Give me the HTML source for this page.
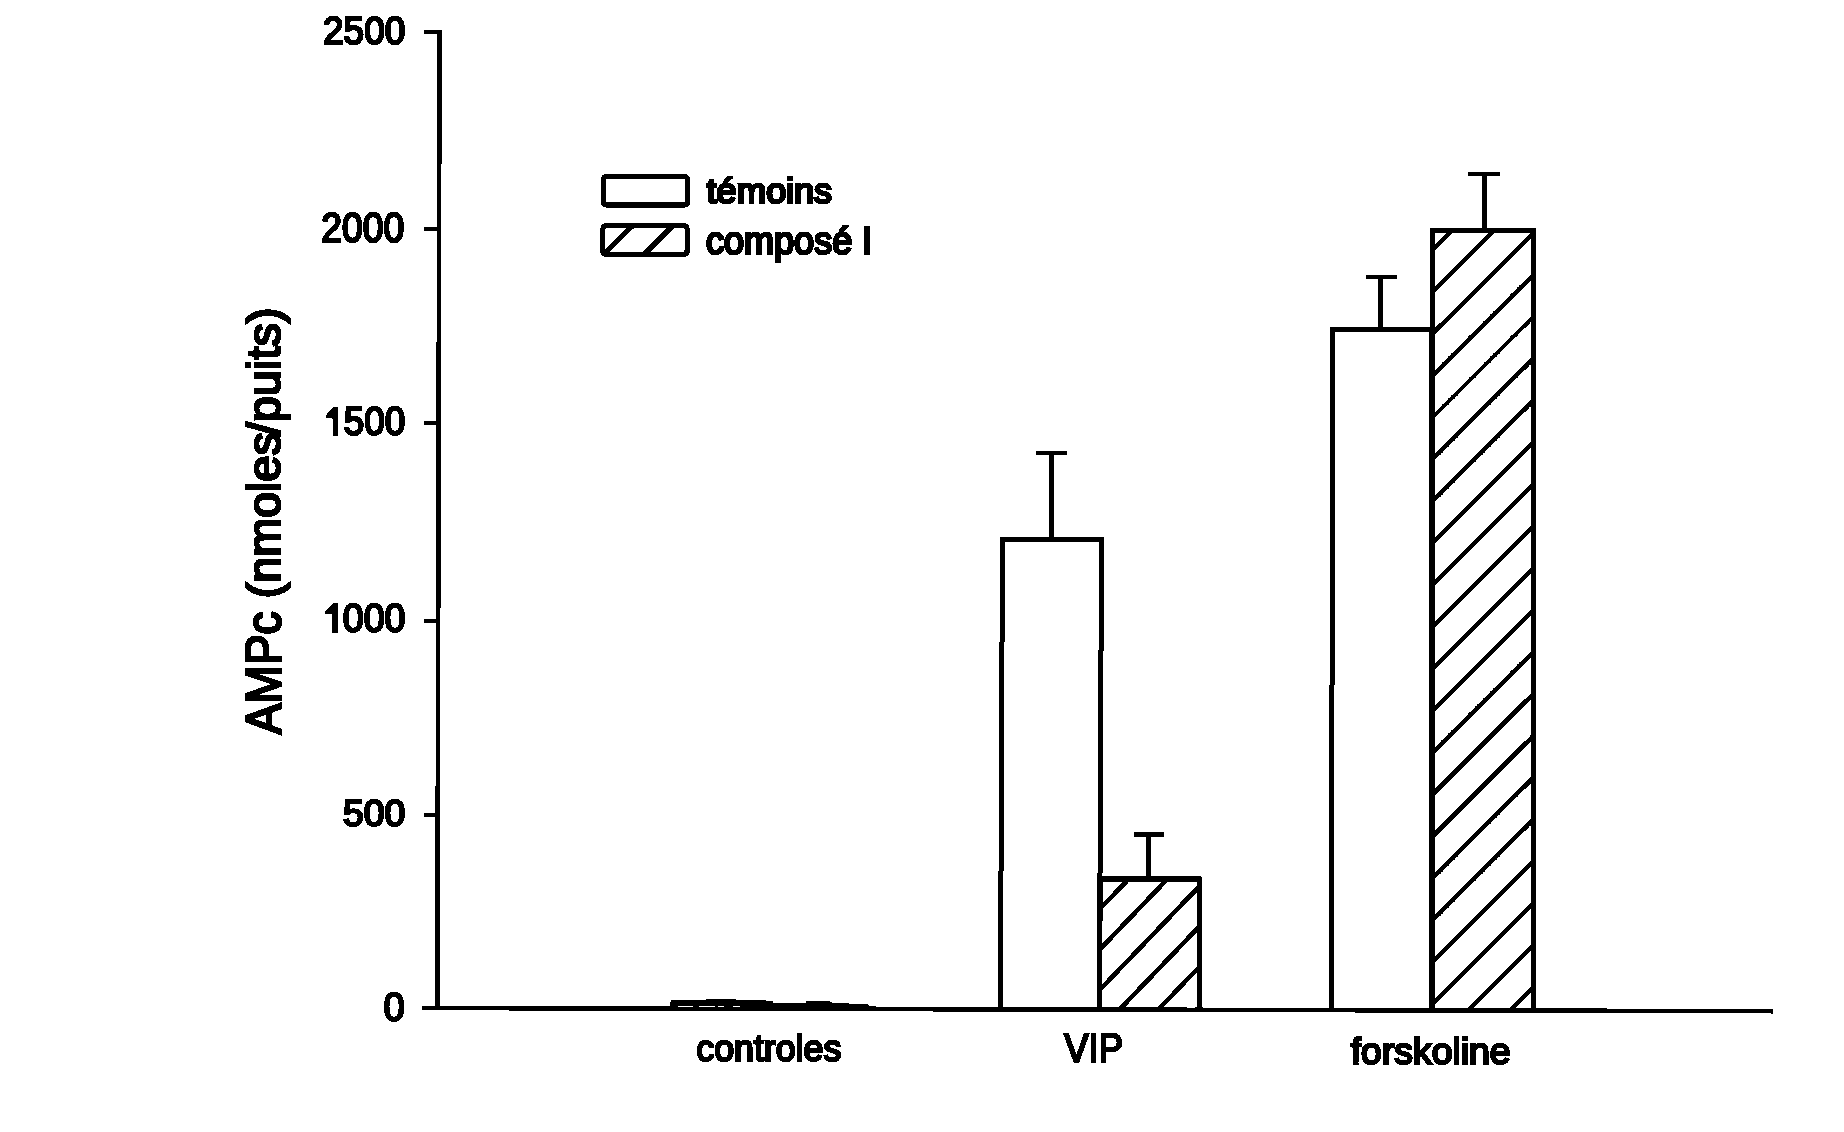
<!DOCTYPE html>
<html><head><meta charset="utf-8"><title>AMPc</title>
<style>html,body{margin:0;padding:0;background:#fff;width:1844px;height:1132px;overflow:hidden;font-family:"Liberation Sans",sans-serif}svg{display:block}</style>
</head><body>
<svg width="1844" height="1132" viewBox="0 0 1844 1132"><defs><clipPath id="c0"><polygon points="1101.9,1008.5 1102.5,881.5 1197.0,881.5 1197.1,1008.5"/></clipPath><clipPath id="c1"><polygon points="1434.5,1008.5 1434.9,233.0 1531.0,233.0 1530.7,1008.5"/></clipPath><clipPath id="c2"><polygon points="605,228 685,228 685,252.5 605,252.5"/></clipPath><filter id="bw" x="0" y="0" width="100%" height="100%" filterUnits="userSpaceOnUse" color-interpolation-filters="sRGB"><feColorMatrix type="matrix" values="0.299 0.587 0.114 0 0  0.299 0.587 0.114 0 0  0.299 0.587 0.114 0 0  0 0 0 1 0"/><feComponentTransfer><feFuncR type="discrete" tableValues="0 1"/><feFuncG type="discrete" tableValues="0 1"/><feFuncB type="discrete" tableValues="0 1"/></feComponentTransfer></filter></defs>
<g filter="url(#bw)"><rect x="0" y="0" width="1844" height="1132" fill="#fff"/><path d="M424 32 L439.5 32 L437.3 1010" fill="none" stroke="#000" stroke-width="4.6" stroke-linejoin="miter"/>
<line x1="424" y1="229" x2="439" y2="229" stroke="#000" stroke-width="4.2" stroke-linecap="butt"/>
<line x1="424" y1="423" x2="439" y2="423" stroke="#000" stroke-width="4.2" stroke-linecap="butt"/>
<line x1="424" y1="621" x2="439" y2="621" stroke="#000" stroke-width="4.2" stroke-linecap="butt"/>
<line x1="424" y1="815" x2="439" y2="815" stroke="#000" stroke-width="4.2" stroke-linecap="butt"/>
<path d="M422 1008 L1773 1011.2" fill="none" stroke="#000" stroke-width="4.6" stroke-linejoin="miter"/>
<path d="M670.4 1009.8 L670.4 1002 L672 999.8 L706 999.8 L706 998.8 L736 998.8 L736 999.8 L766 999.8 L766 1001 L773 1001 L773 1003 L806 1003 L806 1001 L829 1001 L833 1003 L849 1003 L849 1004 L868 1004 L869 1006 L876 1006 L876 1007.2 L881 1007.2 L881 1010.5 L776 1010.5 L776 1010.8 L765 1010.8 L765 1009.8 Z" fill="#000"/>
<rect x="678" y="1006" width="15" height="1" fill="#fff"/>
<rect x="699" y="1006" width="16" height="1" fill="#fff"/>
<rect x="718" y="1006" width="6" height="1" fill="#fff"/>
<rect x="733" y="1006" width="7" height="1" fill="#fff"/>
<path d="M1000.4 1008.5 L1002.45 539.4 L1101.5 539.5 L1099.4 1008.5" fill="none" stroke="#000" stroke-width="5.0" stroke-linejoin="miter"/>
<path clip-path="url(#c0)" d="M1095.90 832.36L1203.10 720.88M1095.90 872.71L1203.10 761.23M1095.90 913.06L1203.10 801.58M1095.90 953.41L1203.10 841.93M1095.90 993.76L1203.10 882.28M1095.90 1034.11L1203.10 922.63M1095.90 1074.46L1203.10 962.98M1095.90 1114.81L1203.10 1003.33" stroke="#000" stroke-width="4.6" fill="none"/>
<path d="M1099.4 1008.5 L1100 879 L1199.5 879 L1199.6 1008.5" fill="none" stroke="#000" stroke-width="5.0" stroke-linejoin="miter"/>
<line x1="1051.5" y1="452.9" x2="1051.5" y2="539" stroke="#000" stroke-width="4.8" stroke-linecap="butt"/>
<line x1="1036" y1="452.9" x2="1067" y2="452.9" stroke="#000" stroke-width="4.0" stroke-linecap="butt"/>
<line x1="1148.5" y1="834.6" x2="1148.5" y2="879" stroke="#000" stroke-width="5.6" stroke-linecap="butt"/>
<line x1="1134" y1="834.6" x2="1164.5" y2="834.6" stroke="#000" stroke-width="4.8" stroke-linecap="butt"/>
<path d="M1331.2 1008.5 L1332.9 329.6 L1431.9 329.6 L1432 1008.5" fill="none" stroke="#000" stroke-width="5.0" stroke-linejoin="miter"/>
<path clip-path="url(#c1)" d="M1428.50 212.00L1537.00 103.50M1428.50 253.90L1537.00 145.40M1428.50 295.80L1537.00 187.30M1428.50 337.70L1537.00 229.20M1428.50 379.60L1537.00 271.10M1428.50 421.50L1537.00 313.00M1428.50 463.40L1537.00 354.90M1428.50 505.30L1537.00 396.80M1428.50 547.20L1537.00 438.70M1428.50 589.10L1537.00 480.60M1428.50 631.00L1537.00 522.50M1428.50 672.90L1537.00 564.40M1428.50 714.80L1537.00 606.30M1428.50 756.70L1537.00 648.20M1428.50 798.60L1537.00 690.10M1428.50 840.50L1537.00 732.00M1428.50 882.40L1537.00 773.90M1428.50 924.30L1537.00 815.80M1428.50 966.20L1537.00 857.70M1428.50 1008.10L1537.00 899.60M1428.50 1050.00L1537.00 941.50M1428.50 1091.90L1537.00 983.40M1428.50 1133.80L1537.00 1025.30" stroke="#000" stroke-width="4.4" fill="none"/>
<path d="M1432 1008.5 L1432.4 230.5 L1533.5 230.5 L1533.2 1008.5" fill="none" stroke="#000" stroke-width="5.0" stroke-linejoin="miter"/>
<line x1="1380.4" y1="277.2" x2="1380.4" y2="329.6" stroke="#000" stroke-width="4.8" stroke-linecap="butt"/>
<line x1="1366.2" y1="277.2" x2="1396.9" y2="277.2" stroke="#000" stroke-width="4.0" stroke-linecap="butt"/>
<line x1="1484.5" y1="174" x2="1484.5" y2="230.5" stroke="#000" stroke-width="4.8" stroke-linecap="butt"/>
<line x1="1468" y1="174" x2="1500" y2="174" stroke="#000" stroke-width="4.0" stroke-linecap="butt"/>
<rect x="603.4" y="176.5" width="84.1" height="28.5" rx="2.5" fill="none" stroke="#000" stroke-width="5"/>
<path clip-path="url(#c2)" d="M599.00 179.20L691.00 87.20M599.00 219.30L691.00 127.30M599.00 259.40L691.00 167.40M599.00 299.50L691.00 207.50M599.00 339.60L691.00 247.60" stroke="#000" stroke-width="5" fill="none"/>
<rect x="602.9" y="225.8" width="84.2" height="28.6" rx="2.5" fill="none" stroke="#000" stroke-width="5"/>
<path d="M333.1 406.9 L338.2 406.9 L338.2 435.9 L333.1 435.9 L333.1 419 L331.5 417.8 L325.9 417.8 L325.9 415.2 L331 409.2 Z" fill="#000"/>
<path d="M334 602.9 L338.4 602.9 L338.4 632.8 L332.2 632.8 L332.2 614.5 L331.5 613.7 L325.1 613.7 L325.1 611.8 L331.5 605.2 Z" fill="#000"/>
<text fill="#000" stroke="#000" stroke-width="2.4" transform="translate(323.05 44.39)" font-family="&quot;Liberation Sans&quot;, sans-serif" font-size="38.88" font-weight="normal" font-style="normal" textLength="82.20" lengthAdjust="spacingAndGlyphs">2500</text>
<text fill="#000" stroke="#000" stroke-width="2.4" transform="translate(321.25 241.55)" font-family="&quot;Liberation Sans&quot;, sans-serif" font-size="41.92" font-weight="normal" font-style="normal" textLength="83.00" lengthAdjust="spacingAndGlyphs">2000</text>
<text fill="#000" stroke="#000" stroke-width="2.4" transform="translate(343.85 435.18)" font-family="&quot;Liberation Sans&quot;, sans-serif" font-size="40.01" font-weight="normal" font-style="normal" textLength="61.40" lengthAdjust="spacingAndGlyphs">500</text>
<text fill="#000" stroke="#000" stroke-width="2.4" transform="translate(342.80 632.01)" font-family="&quot;Liberation Sans&quot;, sans-serif" font-size="40.13" font-weight="normal" font-style="normal" textLength="62.70" lengthAdjust="spacingAndGlyphs">000</text>
<text fill="#000" stroke="#000" stroke-width="2.4" transform="translate(343.00 826.41)" font-family="&quot;Liberation Sans&quot;, sans-serif" font-size="37.61" font-weight="normal" font-style="normal" textLength="62.25" lengthAdjust="spacingAndGlyphs">500</text>
<text fill="#000" stroke="#000" stroke-width="2.4" transform="translate(383.55 1020.62)" font-family="&quot;Liberation Sans&quot;, sans-serif" font-size="40.89" font-weight="normal" font-style="normal" textLength="21.15" lengthAdjust="spacingAndGlyphs">0</text>
<text fill="#000" stroke="#000" stroke-width="2.4" transform="translate(696.30 1061.21)" font-family="&quot;Liberation Sans&quot;, sans-serif" font-size="37.55" font-weight="normal" font-style="normal" textLength="145.05" lengthAdjust="spacingAndGlyphs">controles</text>
<text fill="#000" stroke="#000" stroke-width="2.4" transform="translate(1064.30 1061.82)" font-family="&quot;Liberation Sans&quot;, sans-serif" font-size="40.25" font-weight="normal" font-style="normal" textLength="58.65" lengthAdjust="spacingAndGlyphs">VIP</text>
<text fill="#000" stroke="#000" stroke-width="2.4" transform="translate(1350.75 1063.60)" font-family="&quot;Liberation Sans&quot;, sans-serif" font-size="37.79" font-weight="normal" font-style="normal" textLength="159.75" lengthAdjust="spacingAndGlyphs">forskoline</text>
<text fill="#000" stroke="#000" stroke-width="2.8" transform="translate(706.55 202.84)" font-family="&quot;Liberation Sans&quot;, sans-serif" font-size="35.78" font-weight="normal" font-style="normal" textLength="125.45" lengthAdjust="spacingAndGlyphs">t&#233;moins</text>
<text fill="#000" stroke="#000" stroke-width="2.8" transform="translate(706.05 254.02)" font-family="&quot;Liberation Sans&quot;, sans-serif" font-size="38.62" font-weight="normal" font-style="normal" textLength="166.15" lengthAdjust="spacingAndGlyphs">compos&#233; I</text>
<text fill="#000" stroke="#000" stroke-width="2.6" transform="translate(280.86 734.15) rotate(-90)" font-family="&quot;Liberation Sans&quot;, sans-serif" font-size="49.27" font-weight="normal" font-style="normal" textLength="122.75" lengthAdjust="spacingAndGlyphs">AMPc</text>
<text fill="#000" stroke="#000" stroke-width="2.6" transform="translate(280.20 598.25) rotate(-90)" font-family="&quot;Liberation Sans&quot;, sans-serif" font-size="45.63" font-weight="normal" font-style="normal" textLength="166.05" lengthAdjust="spacingAndGlyphs">(nmoles</text>
<text fill="#000" stroke="#000" stroke-width="2.6" transform="translate(280.20 435.25) rotate(-90)" font-family="&quot;Liberation Sans&quot;, sans-serif" font-size="45.63" font-weight="normal" font-style="normal" textLength="127.75" lengthAdjust="spacingAndGlyphs">/puits)</text></g>
</svg>
</body></html>
